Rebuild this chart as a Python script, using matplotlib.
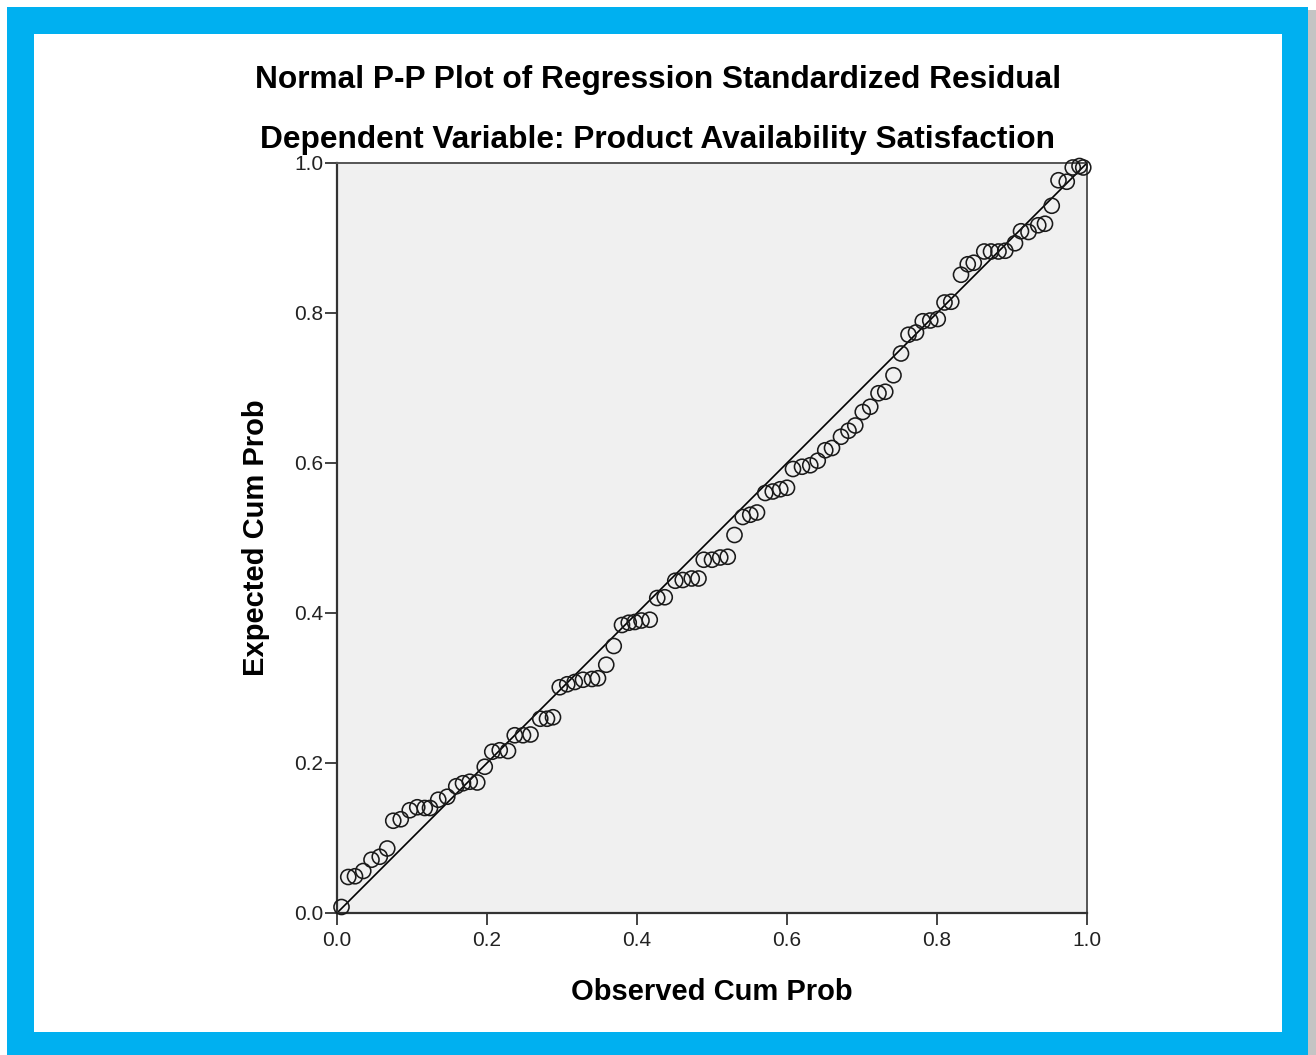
import matplotlib
matplotlib.use("Agg")
import matplotlib.pyplot as plt
from matplotlib.patches import Rectangle

plt.rcParams['font.family'] = ['Liberation Sans', 'DejaVu Sans']

# observed vs expected cumulative probabilities
observed = [0.006, 0.015, 0.024, 0.035, 0.046, 0.057, 0.067, 0.075, 0.085, 0.097,
            0.107, 0.117, 0.124, 0.135, 0.147, 0.159, 0.168, 0.177, 0.187, 0.197,
            0.207, 0.217, 0.228, 0.237, 0.248, 0.258, 0.271, 0.280, 0.288, 0.297,
            0.307, 0.317, 0.328, 0.340, 0.348, 0.359, 0.369, 0.380, 0.389, 0.397,
            0.406, 0.417, 0.427, 0.437, 0.451, 0.461, 0.473, 0.482, 0.489, 0.500,
            0.511, 0.521, 0.530, 0.541, 0.551, 0.560, 0.571, 0.581, 0.591, 0.600,
            0.608, 0.620, 0.631, 0.641, 0.651, 0.660, 0.672, 0.682, 0.691, 0.701,
            0.711, 0.722, 0.731, 0.742, 0.752, 0.762, 0.772, 0.781, 0.791, 0.801,
            0.810, 0.819, 0.832, 0.841, 0.849, 0.863, 0.872, 0.882, 0.891, 0.904,
            0.912, 0.922, 0.935, 0.944, 0.953, 0.962, 0.973, 0.981, 0.990, 0.995]
expected = [0.008, 0.048, 0.049, 0.056, 0.071, 0.075, 0.086, 0.123, 0.125, 0.137,
            0.141, 0.140, 0.140, 0.151, 0.155, 0.169, 0.173, 0.175, 0.174, 0.195,
            0.215, 0.217, 0.216, 0.237, 0.237, 0.238, 0.259, 0.259, 0.261, 0.301,
            0.305, 0.308, 0.311, 0.312, 0.313, 0.331, 0.356, 0.384, 0.387, 0.388,
            0.390, 0.391, 0.420, 0.421, 0.443, 0.444, 0.446, 0.446, 0.471, 0.471,
            0.474, 0.475, 0.504, 0.528, 0.531, 0.534, 0.560, 0.562, 0.565, 0.567,
            0.592, 0.595, 0.597, 0.603, 0.617, 0.620, 0.635, 0.643, 0.650, 0.668,
            0.675, 0.693, 0.695, 0.717, 0.746, 0.771, 0.774, 0.789, 0.790, 0.792,
            0.814, 0.815, 0.851, 0.865, 0.867, 0.882, 0.882, 0.882, 0.883, 0.893,
            0.909, 0.908, 0.917, 0.919, 0.943, 0.977, 0.975, 0.994, 0.996, 0.994]
ticks = [0.0, 0.2, 0.4, 0.6, 0.8, 1.0]
tick_labels = ['0.0', '0.2', '0.4', '0.6', '0.8', '1.0']

W, H = 1316, 1055
fig = plt.figure(figsize=(W / 100, H / 100), dpi=100)
fig.patch.set_facecolor('white')

# blue frame with a little shadow on the right
fig.patches.append(Rectangle((1308 / W, 0), 8 / W, 1 - 10 / H, transform=fig.transFigure,
                             facecolor='#c4c4c4', edgecolor='none', zorder=-3))
fig.patches.append(Rectangle((7 / W, 0), 1301 / W, 1 - 7 / H, transform=fig.transFigure,
                             facecolor='#00b0f0', edgecolor='none', zorder=-2))
fig.patches.append(Rectangle((34 / W, (H - 1032) / H), 1248 / W, 998 / H,
                             transform=fig.transFigure, facecolor='white',
                             edgecolor='none', zorder=-1))

ax = fig.add_axes([337 / W, (H - 913) / H, 750 / W, 750 / H])
ax.set_facecolor('#f0f0f0')
ax.plot([0, 1], [0, 1], color='black', lw=1.2, zorder=2)
ax.scatter(observed, expected, s=118, facecolors='none', edgecolors='#1a1a1a',
           linewidths=1.15, zorder=3, clip_on=False)

ax.set_xlim(0, 1)
ax.set_ylim(0, 1)
ax.set_xticks(ticks)
ax.set_xticklabels(tick_labels)
ax.set_yticks(ticks)
ax.set_yticklabels(tick_labels)
ax.tick_params(direction='out', length=8.5, width=1.2, colors='#222222',
               labelsize=15, pad=1.5)
ax.tick_params(axis='x', pad=4.5)
for side in ['left', 'bottom']:
    ax.spines[side].set_linewidth(1.6)
    ax.spines[side].set_color('#333333')
for side in ['top', 'right']:
    ax.spines[side].set_linewidth(1.4)
    ax.spines[side].set_color('#555555')

ax.set_xlabel('Observed Cum Prob', fontsize=21, fontweight='bold', labelpad=20)
ax.set_ylabel('Expected Cum Prob', fontsize=21, fontweight='bold', labelpad=17)

fig.text(658 / W, 1 - 80 / H, 'Normal P-P Plot of Regression Standardized Residual',
         ha='center', va='center', fontsize=22.8, fontweight='bold')
fig.text(658 / W, 1 - 140 / H, 'Dependent Variable: Product Availability Satisfaction',
         ha='center', va='center', fontsize=22.8, fontweight='bold')

fig.savefig('out.png', dpi=100)
